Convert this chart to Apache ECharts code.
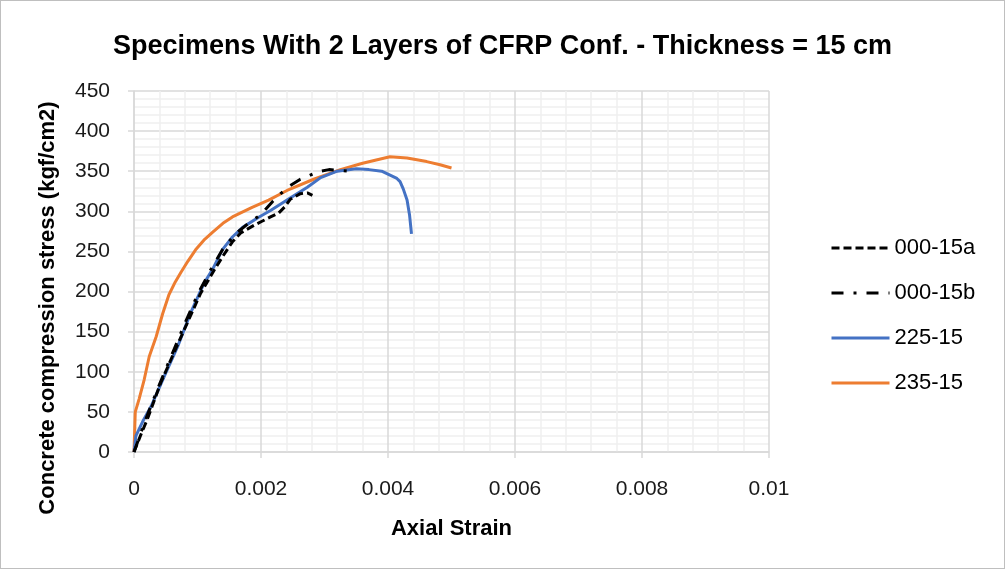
<!DOCTYPE html>
<html>
<head>
<meta charset="utf-8">
<title>CFRP 2 layers - 15 cm</title>
<script src="https://cdn.jsdelivr.net/npm/echarts@6/dist/echarts.min.js"></script>
<style>
  body { margin: 0; background: #fff; }
  #chart { width: 1005px; height: 569px; box-sizing: border-box; border: 1px solid #bfbfbf; }
</style>
</head>
<body>
<div id="chart"></div>
<script>
// data (axial strain / stress kgf/cm2)
var seriesNames = ["000-15a", "000-15b", "225-15", "235-15"];

var strain15a = [0, 0.0001, 0.00021, 0.00042, 0.00063, 0.00084, 0.00105, 0.00125, 0.00139, 0.00155, 0.00168, 0.0019, 0.002, 0.00215, 0.00228, 0.00238, 0.00246, 0.00262, 0.00273, 0.00281];
var stress15a = [0, 20, 41, 86, 124, 161, 198, 225, 243, 262, 273, 283, 287, 293, 298, 306, 315, 322, 323, 320];

var strain15b = [0, 0.0001, 0.0002, 0.0004, 0.0006, 0.0008, 0.001, 0.0012, 0.0014, 0.0016, 0.0018, 0.002, 0.00218, 0.00231, 0.00246, 0.00262, 0.00275, 0.00288, 0.00307, 0.00338];
var stress15b = [0, 22, 44, 84, 122, 160, 196, 226, 253, 272, 285, 296, 312, 322, 332, 340, 344, 349, 352, 350];

var strain225 = [0, 0.00003, 0.00015, 0.00027, 0.00048, 0.00069, 0.00089, 0.0011, 0.00124, 0.00139, 0.00155, 0.00171, 0.00197, 0.00215, 0.00241, 0.00273, 0.00294, 0.0032, 0.0035, 0.0037, 0.0039, 0.00414, 0.00419, 0.00424, 0.0043, 0.00434, 0.00437];
var stress225 = [0, 20, 40, 57, 95, 132, 173, 210, 228, 252, 268, 280, 293, 301, 314, 330, 342, 350, 353, 352, 350, 341, 337, 328, 314, 295, 272];

var strain235 = [0, 0.00002, 0.00008, 0.00016, 0.00024, 0.00035, 0.00045, 0.00055, 0.00065, 0.00074, 0.00085, 0.00097, 0.0011, 0.00124, 0.0014, 0.00155, 0.00186, 0.00212, 0.00241, 0.00283, 0.00325, 0.0036, 0.00403, 0.0043, 0.00461, 0.00482, 0.005];
var stress235 = [0, 50, 66, 90, 119, 144, 172, 196, 212, 224, 238, 252, 264, 274, 285, 293, 305, 314, 326, 340, 352, 360, 368, 366.5, 362, 358, 354];

function pairs(xs, ys) {
  return xs.map(function (x, i) { return [x, ys[i]]; });
}

var chart = echarts.init(document.getElementById("chart"));
var font = "Liberation Sans, Arial, sans-serif";

var option = {
  backgroundColor: "#fff",
  animation: false,
  textStyle: { fontFamily: font },
  title: {
    text: "Specimens With 2 Layers of CFRP Conf. - Thickness = 15 cm",
    left: "center",
    top: 27,
    textStyle: { fontFamily: font, fontSize: 27, fontWeight: "bold", color: "#000" }
  },
  grid: { left: 133, right: 235, top: 90, bottom: 116 },
  legend: {
    orient: "vertical",
    left: 829,
    top: 236,
    padding: 0,
    itemWidth: 58,
    itemHeight: 14,
    itemGap: 23,
    itemStyle: { opacity: 0 },
    lineStyle: { width: 3 },
    textStyle: { fontFamily: font, fontSize: 22, color: "#000", padding: [0, 0, 0, 0] },
    data: seriesNames
  },
  xAxis: {
    type: "value",
    min: 0,
    max: 0.01,
    interval: 0.002,
    name: "Axial Strain",
    nameLocation: "middle",
    nameGap: 66,
    nameTextStyle: { fontFamily: font, fontSize: 22, fontWeight: "bold", color: "#000" },
    axisLine: { show: true, lineStyle: { color: "#d9d9d9", width: 1.5 } },
    axisTick: { show: true, length: 6, lineStyle: { color: "#d9d9d9", width: 1.5 } },
    axisLabel: {
      fontSize: 21, color: "#1a1a1a", margin: 27,
      formatter: function (v) { return String(+v.toFixed(3)); }
    },
    splitLine: { show: true, lineStyle: { color: "#d9d9d9", width: 1.5 } },
    minorTick: { show: false, splitNumber: 5 },
    minorSplitLine: { show: true, lineStyle: { color: "#efefef", width: 1.5 } }
  },
  yAxis: {
    type: "value",
    min: 0,
    max: 450,
    interval: 50,
    axisLine: { show: true, lineStyle: { color: "#d9d9d9", width: 1.5 } },
    axisTick: { show: true, length: 6, lineStyle: { color: "#d9d9d9", width: 1.5 } },
    axisLabel: { fontSize: 21, color: "#1a1a1a", margin: 24 },
    splitLine: { show: true, lineStyle: { color: "#d9d9d9", width: 1.5 } },
    minorTick: { show: false, splitNumber: 5 },
    minorSplitLine: { show: true, lineStyle: { color: "#efefef", width: 1.5 } }
  },
  graphic: [{
    type: "text",
    rotation: Math.PI / 2,
    x: 47,
    y: 307,
    style: {
      text: "Concrete compression stress (kgf/cm2)",
      font: "bold 22px " + font,
      fill: "#000",
      textAlign: "center",
      textVerticalAlign: "middle"
    }
  }],
  series: [
    {
      name: "000-15a", type: "line", symbol: "none", z: 4,
      lineStyle: { color: "#000", width: 3, type: [8, 4] },
      itemStyle: { color: "#000" },
      data: pairs(strain15a, stress15a)
    },
    {
      name: "000-15b", type: "line", symbol: "none", z: 5,
      lineStyle: { color: "#000", width: 3, type: [12, 10, 3, 10] },
      itemStyle: { color: "#000" },
      data: pairs(strain15b, stress15b)
    },
    {
      name: "225-15", type: "line", symbol: "none", z: 3,
      lineStyle: { color: "#4472C4", width: 3 },
      itemStyle: { color: "#4472C4" },
      data: pairs(strain225, stress225)
    },
    {
      name: "235-15", type: "line", symbol: "none", z: 2,
      lineStyle: { color: "#ED7D31", width: 3 },
      itemStyle: { color: "#ED7D31" },
      data: pairs(strain235, stress235)
    }
  ]
};

chart.setOption(option);
</script>
</body>
</html>
